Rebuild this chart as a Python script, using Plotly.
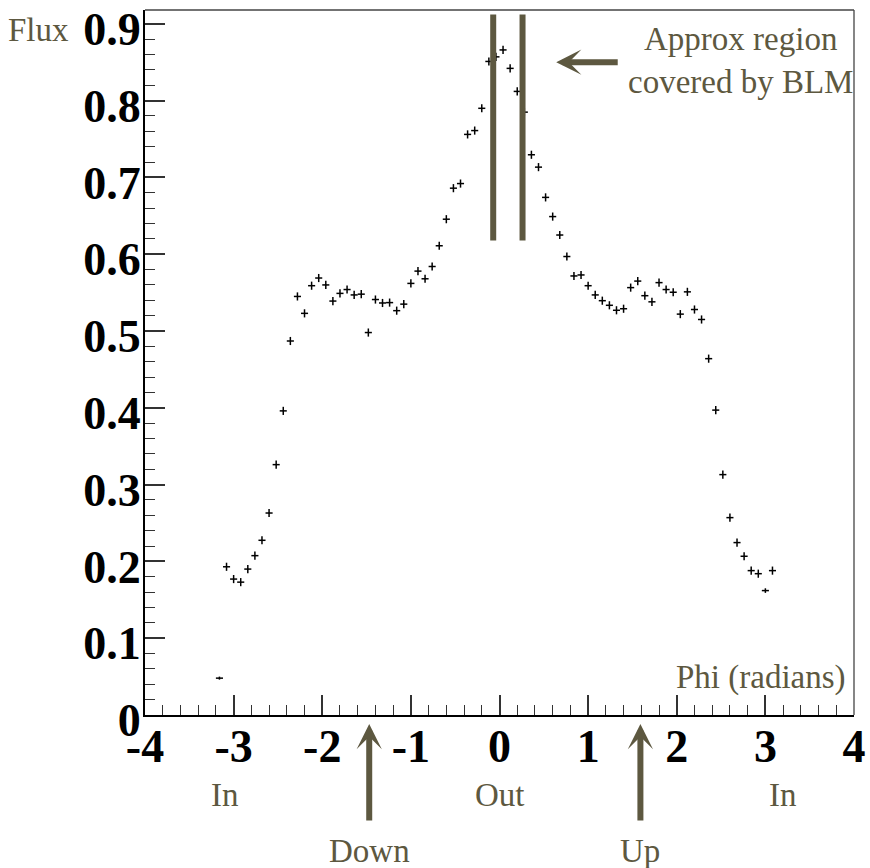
import plotly.graph_objects as go

# Bin centres of phi (radians)
phi = [-3.16, -3.08, -3.00, -2.92, -2.84, -2.76, -2.68, -2.60, -2.52, -2.44,
       -2.36, -2.28, -2.20, -2.12, -2.04, -1.96, -1.88, -1.80, -1.72, -1.64,
       -1.56, -1.48, -1.40, -1.32, -1.24, -1.16, -1.08, -1.00, -0.92, -0.84,
       -0.76, -0.68, -0.60, -0.52, -0.44, -0.36, -0.28, -0.20, -0.12, -0.04,
       0.04, 0.12, 0.20, 0.28, 0.36, 0.44, 0.52, 0.60, 0.68, 0.76,
       0.84, 0.92, 1.00, 1.08, 1.16, 1.24, 1.32, 1.40, 1.48, 1.56,
       1.64, 1.72, 1.80, 1.88, 1.96, 2.04, 2.12, 2.20, 2.28, 2.36,
       2.44, 2.52, 2.60, 2.68, 2.76, 2.84, 2.92, 3.00, 3.08]

flux = [0.048, 0.193, 0.177, 0.173, 0.190, 0.2075, 0.2275, 0.263, 0.326, 0.396,
        0.487, 0.545, 0.523, 0.559, 0.569, 0.560, 0.539, 0.549, 0.554, 0.547,
        0.548, 0.498, 0.541, 0.5365, 0.537, 0.5265, 0.535, 0.562, 0.578, 0.568,
        0.584, 0.611, 0.6456, 0.686, 0.692, 0.756, 0.761, 0.790, 0.851, 0.857,
        0.866, 0.842, 0.812, 0.785, 0.7295, 0.7134, 0.674, 0.649, 0.625, 0.597,
        0.5717, 0.573, 0.559, 0.547, 0.5395, 0.5335, 0.527, 0.529, 0.5565, 0.565,
        0.546, 0.538, 0.563, 0.554, 0.5505, 0.522, 0.551, 0.528, 0.515, 0.464,
        0.397, 0.313, 0.257, 0.2245, 0.2067, 0.188, 0.184, 0.162, 0.188]

flux_err = [0.002] + [0.0053] * 76 + [0.003, 0.0053]

half_bin = 0.04

x_ticks = [-4, -3, -2, -1, 0, 1, 2, 3, 4]
x_ticktext = ["-4", "-3", "-2", "-1", "0", "1", "2", "3", "4"]
y_ticks = [0, 0.1, 0.2, 0.3, 0.4, 0.5, 0.6, 0.7, 0.8, 0.9]
y_ticktext = ["0", "0.1", "0.2", "0.3", "0.4", "0.5", "0.6", "0.7", "0.8", "0.9"]

# BLM region markers and direction labels
blm_edges = [-0.071, 0.26]
blm_y = [0.618, 0.912]
dir_labels = ["In", "Out", "In"]
dir_x = [-3.1, 0.0, 3.2]
arrow_labels = ["Down", "Up"]
arrow_x = [-1.47, 1.59]

OLIVE = "#5d5840"
SERIF = "Liberation Serif, Times New Roman, serif"
TXT = 33

fig = go.Figure()
fig.add_trace(go.Scatter(
    x=phi, y=flux, mode="markers",
    marker=dict(size=1, color="black"),
    error_x=dict(type="constant", value=half_bin, width=0, thickness=1.5, color="black"),
    error_y=dict(type="data", array=flux_err, width=0, thickness=1.5, color="black"),
    showlegend=False, hoverinfo="x+y",
))

for xe in blm_edges:
    fig.add_shape(type="line", xref="x", yref="y", x0=xe, x1=xe,
                  y0=blm_y[0], y1=blm_y[1], line=dict(color=OLIVE, width=6))

# top and right frame lines
fig.add_shape(type="line", xref="paper", yref="paper", x0=0, x1=1, y0=1, y1=1,
              line=dict(color="#444", width=1.3))
fig.add_shape(type="line", xref="paper", yref="paper", x0=1, x1=1, y0=0, y1=1,
              line=dict(color="#444", width=1.3))

ann = []
ann.append(dict(text="Flux", xref="paper", yref="paper", x=-0.104, y=0.9716,
                xanchor="right", yanchor="middle", showarrow=False,
                font=dict(family=SERIF, size=TXT, color=OLIVE)))
ann.append(dict(text="Approx region<br>covered by BLM", xref="x", yref="paper",
                x=2.72, y=0.929, xanchor="center", yanchor="middle", showarrow=False,
                align="center", font=dict(family=SERIF, size=TXT, color=OLIVE)))
ann.append(dict(text="Phi (radians)", xref="x", yref="paper", x=3.93, y=0.0525,
                xanchor="right", yanchor="middle", showarrow=False,
                font=dict(family=SERIF, size=TXT, color=OLIVE)))
for t, xv in zip(dir_labels, dir_x):
    ann.append(dict(text=t, xref="x", yref="paper", x=xv, y=-0.1135,
                    xanchor="center", yanchor="middle", showarrow=False,
                    font=dict(family=SERIF, size=TXT, color=OLIVE)))
for t, xv in zip(arrow_labels, arrow_x):
    ann.append(dict(text=t, xref="x", yref="paper", x=xv, y=-0.193,
                    xanchor="center", yanchor="middle", showarrow=False,
                    font=dict(family=SERIF, size=TXT, color=OLIVE)))
    ann.append(dict(text="", xref="x", yref="paper", x=xv, y=-0.0128,
                    showarrow=True, ax=0, ay=98, arrowhead=3, arrowsize=0.7,
                    arrowwidth=6, arrowcolor=OLIVE, standoff=0))
ann.append(dict(text="", xref="x", yref="y", x=0.64, y=0.850,
                showarrow=True, ax=63, ay=0, arrowhead=3, arrowsize=0.7,
                arrowwidth=6, arrowcolor=OLIVE, standoff=0))

fig.update_layout(
    width=870, height=868,
    margin=dict(l=145, r=16, t=10, b=153, autoexpand=False),
    paper_bgcolor="white", plot_bgcolor="white",
    annotations=ann,
    xaxis=dict(range=[-4, 4], tickvals=x_ticks, ticktext=x_ticktext, ticks="inside",
               ticklen=20, tickwidth=1.5, tickcolor="#333", showline=True,
               linecolor="black", linewidth=2, showgrid=False, zeroline=False,
               automargin=False,
               ticklabelstandoff=-10, ticklabeloverflow="allow",
               tickfont=dict(family=SERIF, size=46, color="black", weight="bold"),
               minor=dict(dtick=0.2, tick0=0, ticks="inside", ticklen=10, tickwidth=1.2,
                          tickcolor="#333", showgrid=False)),
    yaxis=dict(range=[0, 0.918], tickvals=y_ticks, ticktext=y_ticktext, ticks="inside",
               ticklen=20, tickwidth=1.5, tickcolor="#333", showline=True,
               linecolor="black", linewidth=2, showgrid=False, zeroline=False,
               automargin=False,
               ticklabelshift=5, ticklabelstandoff=-7, ticklabeloverflow="allow",
               tickfont=dict(family=SERIF, size=46, color="black", weight="bold"),
               minor=dict(dtick=0.02, tick0=0, ticks="inside", ticklen=10, tickwidth=1.2,
                          tickcolor="#333", showgrid=False)),
)

fig.write_html("out.html")
